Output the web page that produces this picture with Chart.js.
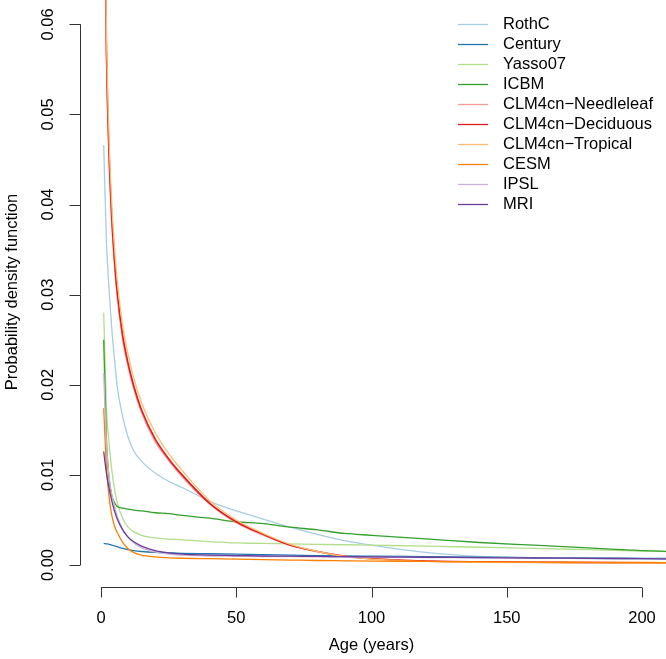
<!DOCTYPE html>
<html>
<head>
<meta charset="utf-8">
<script src="https://cdn.jsdelivr.net/npm/chart.js@4"></script>
<style>
  html, body { margin: 0; padding: 0; background: #fff; }
  #wrap { position: relative; width: 666px; height: 659px; }
</style>
</head>
<body>
<div id="wrap"><canvas id="pdfChart"></canvas></div>
<script>
const ages = [1, 2, 3, 4, 5, 6, 8, 10, 12, 15, 20, 25, 30, 40, 50, 60, 70, 80, 90, 100, 120, 140, 160, 180, 200, 210];

const rothc      = [0.0466, 0.036, 0.0305, 0.0262, 0.0228, 0.0198, 0.0165, 0.0142, 0.0127, 0.0115, 0.0102, 0.0093, 0.0086, 0.0071, 0.0060, 0.0051, 0.0042, 0.0034, 0.0027, 0.0022, 0.0014, 0.00095, 0.0008, 0.0007, 0.00065, 0.00063];
const century    = [0.0024, 0.00235, 0.0023, 0.00222, 0.00212, 0.00203, 0.00185, 0.0017, 0.0016, 0.0015, 0.0014, 0.00135, 0.0013, 0.00125, 0.0012, 0.00115, 0.0011, 0.00105, 0.001, 0.00098, 0.00093, 0.00088, 0.00083, 0.00078, 0.00074, 0.00072];
const yasso07    = [0.028, 0.0175, 0.0135, 0.0105, 0.0084, 0.0069, 0.0052, 0.0042, 0.0037, 0.0033, 0.003, 0.00288, 0.0028, 0.0026, 0.00245, 0.0024, 0.00235, 0.0023, 0.00225, 0.0022, 0.0021, 0.00197, 0.00185, 0.0017, 0.00155, 0.00148];
const icbm       = [0.025, 0.014, 0.0095, 0.0077, 0.0069, 0.0065, 0.0063, 0.0062, 0.0061, 0.006, 0.0058, 0.0057, 0.0055, 0.0052, 0.0048, 0.0046, 0.0042, 0.0039, 0.0035, 0.0033, 0.0029, 0.0025, 0.0022, 0.0019, 0.0016, 0.0015];
const needleleaf = [0.083, 0.0565, 0.0447, 0.0378, 0.0332, 0.0297, 0.025, 0.022, 0.0196, 0.0169, 0.0137, 0.0116, 0.0098, 0.0068, 0.0047, 0.0033, 0.0022, 0.0015, 0.001, 0.00072, 0.00047, 0.00037, 0.00032, 0.00029, 0.00027, 0.00026];
const deciduous  = [0.085, 0.0575, 0.0455, 0.0385, 0.0338, 0.0303, 0.0255, 0.0224, 0.02, 0.0172, 0.014, 0.0118, 0.01, 0.0069, 0.0048, 0.0034, 0.0022, 0.0015, 0.00098, 0.0007, 0.00045, 0.00035, 0.0003, 0.00027, 0.00025, 0.00024];
const tropical   = [0.088, 0.0598, 0.0473, 0.04, 0.0352, 0.0316, 0.0266, 0.0234, 0.0209, 0.018, 0.0147, 0.0124, 0.0105, 0.0072, 0.005, 0.0035, 0.0023, 0.0015, 0.00095, 0.00065, 0.0004, 0.0003, 0.00026, 0.00024, 0.00022, 0.00021];
const cesm       = [0.0174, 0.011, 0.0075, 0.0055, 0.0043, 0.0036, 0.0025, 0.0018, 0.0014, 0.0011, 0.0009, 0.0008, 0.00075, 0.0007, 0.00065, 0.0006, 0.00055, 0.0005, 0.00047, 0.00044, 0.0004, 0.00035, 0.00032, 0.0003, 0.00028, 0.00027];
const ipsl       = [0.0213, 0.0135, 0.0098, 0.0078, 0.0065, 0.0054, 0.004, 0.0031, 0.0025, 0.0019, 0.00145, 0.0012, 0.0011, 0.001, 0.00097, 0.00094, 0.00092, 0.0009, 0.00088, 0.00086, 0.00083, 0.0008, 0.00077, 0.00074, 0.00071, 0.0007];
const mri        = [0.0126, 0.0102, 0.0085, 0.0071, 0.006, 0.0051, 0.0039, 0.0031, 0.0026, 0.0021, 0.0016, 0.00135, 0.0012, 0.0011, 0.00105, 0.001, 0.00098, 0.00095, 0.00093, 0.0009, 0.00086, 0.00082, 0.00078, 0.00074, 0.0007, 0.00068];

const names  = ['RothC', 'Century', 'Yasso07', 'ICBM', 'CLM4cn\u2212Needleleaf', 'CLM4cn\u2212Deciduous', 'CLM4cn\u2212Tropical', 'CESM', 'IPSL', 'MRI'];
const series = [rothc, century, yasso07, icbm, needleleaf, deciduous, tropical, cesm, ipsl, mri];
const colors = ['#A6CEE3', '#1F78B4', '#B2DF8A', '#33A02C', '#FB9A99', '#E31A1C', '#FDBF6F', '#FF7F00', '#CAB2D6', '#6A3D9A'];

const xTicks = [0, 50, 100, 150, 200];
const yTicks = [0, 0.01, 0.02, 0.03, 0.04, 0.05, 0.06];

const FONT = '16.5px "Liberation Sans", Arial, sans-serif';

// R-style detached axes + legend
const rAxes = {
  id: 'rAxes',
  afterDraw(chart) {
    const ctx = chart.ctx;
    const xs = chart.scales.x, ys = chart.scales.y;
    const area = chart.chartArea;
    ctx.save();
    ctx.strokeStyle = '#333';
    ctx.fillStyle = '#000';
    ctx.lineWidth = 1;
    ctx.font = FONT;

    // y axis
    const ax = Math.round(area.left) + 0.5;
    ctx.beginPath();
    ctx.moveTo(ax, ys.getPixelForValue(yTicks[0]));
    ctx.lineTo(ax, ys.getPixelForValue(yTicks[yTicks.length - 1]));
    yTicks.forEach(v => {
      const py = Math.round(ys.getPixelForValue(v)) + 0.5;
      ctx.moveTo(ax, py);
      ctx.lineTo(ax - 11, py);
    });
    ctx.stroke();
    ctx.textAlign = 'center';
    ctx.textBaseline = 'middle';
    yTicks.forEach(v => {
      ctx.save();
      ctx.translate(48, ys.getPixelForValue(v));
      ctx.rotate(-Math.PI / 2);
      ctx.fillText(v.toFixed(2), 0, 0);
      ctx.restore();
    });
    ctx.save();
    ctx.translate(12, 292);
    ctx.rotate(-Math.PI / 2);
    ctx.fillText('Probability density function', 0, 0);
    ctx.restore();

    // x axis
    const ay = Math.round(area.bottom) + 0.5;
    ctx.beginPath();
    ctx.moveTo(xs.getPixelForValue(xTicks[0]), ay);
    ctx.lineTo(xs.getPixelForValue(xTicks[xTicks.length - 1]), ay);
    xTicks.forEach(v => {
      const px = Math.round(xs.getPixelForValue(v)) + 0.5;
      ctx.moveTo(px, ay);
      ctx.lineTo(px, ay + 10);
    });
    ctx.stroke();
    xTicks.forEach(v => ctx.fillText(String(v), xs.getPixelForValue(v), 618));
    ctx.fillText('Age (years)', xs.getPixelForValue(100), 645);

    // legend
    ctx.textAlign = 'left';
    names.forEach((n, i) => {
      const ly = 24 + i * 20;
      ctx.strokeStyle = colors[i];
      ctx.lineWidth = 1.3;
      ctx.beginPath();
      ctx.moveTo(458, ly + 0.5);
      ctx.lineTo(488, ly + 0.5);
      ctx.stroke();
      ctx.fillText(n, 503, ly);
    });
    ctx.restore();
  }
};

new Chart(document.getElementById('pdfChart'), {
  type: 'line',
  data: {
    datasets: series.map((vals, i) => ({
      label: names[i],
      data: ages.map((a, j) => ({ x: a, y: vals[j] })),
      borderColor: colors[i],
      borderWidth: i === 5 ? 1.6 : 1.3,
      pointRadius: 0,
      fill: false,
      cubicInterpolationMode: 'monotone',
      order: series.length - i   // later series drawn on top, like R
    }))
  },
  options: {
    responsive: true,
    maintainAspectRatio: false,
    animation: false,
    layout: { padding: { left: 80, top: 0, right: 0, bottom: 72 } },
    plugins: { legend: { display: false }, tooltip: { enabled: false } },
    scales: {
      x: { type: 'linear', min: -7.763, max: 208.87, display: false },
      y: { type: 'linear', min: -0.00244, max: 0.0627, display: false }
    }
  },
  plugins: [rAxes]
});
</script>
</body>
</html>
